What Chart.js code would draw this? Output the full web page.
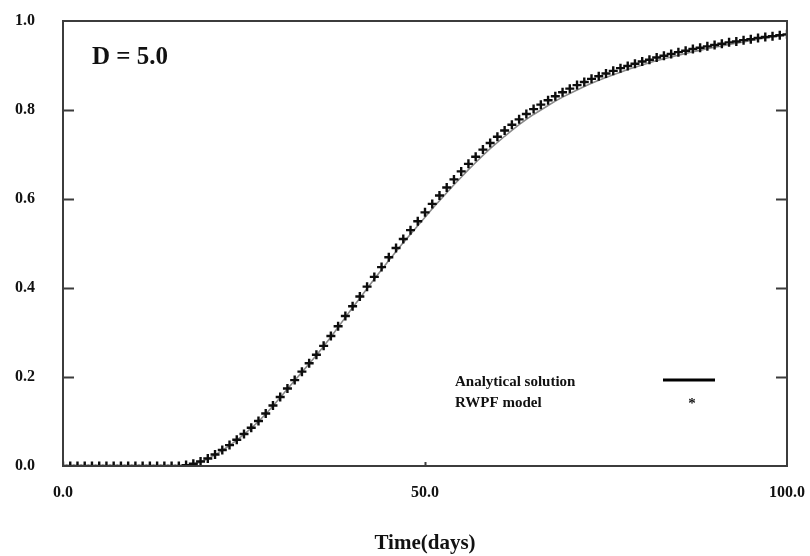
<!DOCTYPE html>
<html>
<head>
<meta charset="utf-8">
<script src="https://cdn.jsdelivr.net/npm/chart.js@4.4.1/dist/chart.umd.min.js"></script>
<style>
  html, body { margin: 0; padding: 0; background: #fff; }
  #wrap { width: 810px; height: 556px; }
</style>
</head>
<body>
<div id="wrap"><canvas id="c" width="810" height="556"></canvas></div>
<script>
// time axis (days)
const days = [0,1,2,3,4,5,6,7,8,9,10,11,12,13,14,15,16,17,18,19,20,21,22,23,24,25,26,27,28,29,30,
  31,32,33,34,35,36,37,38,39,40,41,42,43,44,45,46,47,48,49,50,51,52,53,54,55,56,57,58,59,60,
  61,62,63,64,65,66,67,68,69,70,71,72,73,74,75,76,77,78,79,80,81,82,83,84,85,86,87,88,89,90,
  91,92,93,94,95,96,97,98,99,100];

// analytical solution (grey line)
const analytical = [0,0,0,0,0,0,0,0,0,0,0,0,0,0,0,0,0,
  0.001,0.004,0.009,0.016,0.025,0.035,0.046,0.058,0.071,0.085,0.100,0.117,0.135,0.154,
  0.173,0.192,0.211,0.230,0.249,0.269,0.290,0.312,0.334,0.356,0.377,0.399,0.420,0.441,0.462,
  0.482,0.502,0.521,0.540,0.559,0.578,0.596,0.614,0.632,0.649,0.666,0.682,0.698,0.713,0.727,
  0.741,0.754,0.767,0.779,0.790,0.800,0.810,0.820,0.829,0.837,0.845,0.853,0.860,0.867,0.873,
  0.879,0.885,0.891,0.896,0.901,0.906,0.911,0.915,0.919,0.923,0.927,0.931,0.934,0.938,0.941,
  0.944,0.947,0.950,0.953,0.956,0.959,0.962,0.964,0.967,0.970];

// RWPF model (markers)
const rwpf = [0,0,0,0,0,0,0,0,0,0,0,0,0,0,0,0,0,
  0.002,0.005,0.010,0.017,0.026,0.036,0.047,0.059,0.072,0.086,0.101,0.118,0.136,0.155,
  0.174,0.193,0.212,0.231,0.250,0.270,0.292,0.314,0.337,0.359,0.381,0.403,0.425,0.447,0.469,
  0.490,0.510,0.530,0.550,0.570,0.589,0.608,0.626,0.644,0.662,0.679,0.695,0.711,0.726,0.740,
  0.754,0.767,0.779,0.791,0.802,0.812,0.822,0.831,0.840,0.848,0.856,0.863,0.870,0.876,0.882,
  0.888,0.894,0.899,0.904,0.909,0.913,0.918,0.922,0.926,0.930,0.933,0.937,0.940,0.943,0.946,
  0.949,0.952,0.954,0.957,0.959,0.962,0.964,0.966,0.968,0.970];

const yTicks = [0, 0.2, 0.4, 0.6, 0.8, 1.0];
const xTicks = [0, 50, 100];

const serif = '"Liberation Serif", "Times New Roman", serif';
const ink = '#111';
const frameColor = '#3c3c3c';

const pts = (ys) => days.map((d, i) => ({ x: d, y: ys[i] }));

// frame, inward ticks, annotation and legend
const framePlugin = {
  id: 'frame',
  afterDatasetsDraw(chart) {
    const { ctx, chartArea: a, scales: { x, y } } = chart;
    ctx.save();
    ctx.strokeStyle = frameColor;
    ctx.lineWidth = 2;
    ctx.strokeRect(a.left, a.top, a.right - a.left, a.bottom - a.top);
    ctx.beginPath();
    yTicks.slice(1, -1).forEach(v => {
      const py = Math.round(y.getPixelForValue(v)) + 0.5;
      ctx.moveTo(a.left, py); ctx.lineTo(a.left + 11, py);
      ctx.moveTo(a.right, py); ctx.lineTo(a.right - 11, py);
    });
    const px = Math.round(x.getPixelForValue(50)) + 0.5;
    ctx.moveTo(px, a.bottom); ctx.lineTo(px, a.bottom - 4);
    ctx.stroke();

    ctx.fillStyle = ink;
    ctx.textBaseline = 'middle';
    ctx.textAlign = 'left';
    ctx.font = 'bold 25px ' + serif;
    ctx.fillText('D = 5.0', a.left + 29, a.top + 37);

    ctx.font = 'bold 15px ' + serif;
    ctx.fillText('Analytical solution', 455, 382);
    ctx.fillText('RWPF model', 455, 403);
    ctx.textAlign = 'center';
    ctx.fillText('*', 692, 404);
    ctx.strokeStyle = '#000';
    ctx.lineWidth = 3;
    ctx.beginPath();
    ctx.moveTo(663, 380); ctx.lineTo(715, 380);
    ctx.stroke();
    ctx.restore();
  }
};

new Chart(document.getElementById('c'), {
  type: 'line',
  data: {
    datasets: [
      {
        label: 'RWPF model',
        data: pts(rwpf),
        showLine: false,
        pointStyle: 'cross',
        pointRadius: 4.5,
        pointBorderWidth: 2.4,
        pointBorderColor: '#0d0d0d',
        borderColor: '#0d0d0d',
        order: 0
      },
      {
        label: 'Analytical solution',
        data: pts(analytical),
        borderColor: '#8a8a8a',
        borderWidth: 1.6,
        pointRadius: 0,
        fill: false,
        order: 1
      }
    ]
  },
  options: {
    responsive: false,
    animation: false,
    layout: { padding: { top: 21, right: 23, bottom: 0, left: 0 } },
    plugins: { legend: { display: false }, tooltip: { enabled: false } },
    scales: {
      x: {
        type: 'linear',
        min: 0, max: 100,
        afterFit: s => { s.height = 90; s.paddingLeft = 0; s.paddingRight = 0; },
        afterBuildTicks: s => { s.ticks = xTicks.map(v => ({ value: v })); },
        grid: { display: false, drawTicks: false },
        border: { display: false },
        ticks: {
          padding: 17,
          color: ink,
          font: { family: serif, size: 16, weight: 'bold' },
          maxRotation: 0,
          callback: v => v.toFixed(1)
        },
        title: {
          display: true,
          text: 'Time(days)',
          color: ink,
          padding: 0,
          font: { family: serif, size: 21, weight: 'bold' }
        }
      },
      y: {
        min: 0, max: 1,
        afterFit: s => { s.width = 63; s.paddingTop = 0; s.paddingBottom = 0; },
        afterBuildTicks: s => { s.ticks = yTicks.map(v => ({ value: v })); },
        grid: { display: false, drawTicks: false },
        border: { display: false },
        ticks: {
          padding: 28,
          color: ink,
          font: { family: serif, size: 16, weight: 'bold' },
          callback: v => v.toFixed(1)
        }
      }
    }
  },
  plugins: [framePlugin]
});
</script>
</body>
</html>
